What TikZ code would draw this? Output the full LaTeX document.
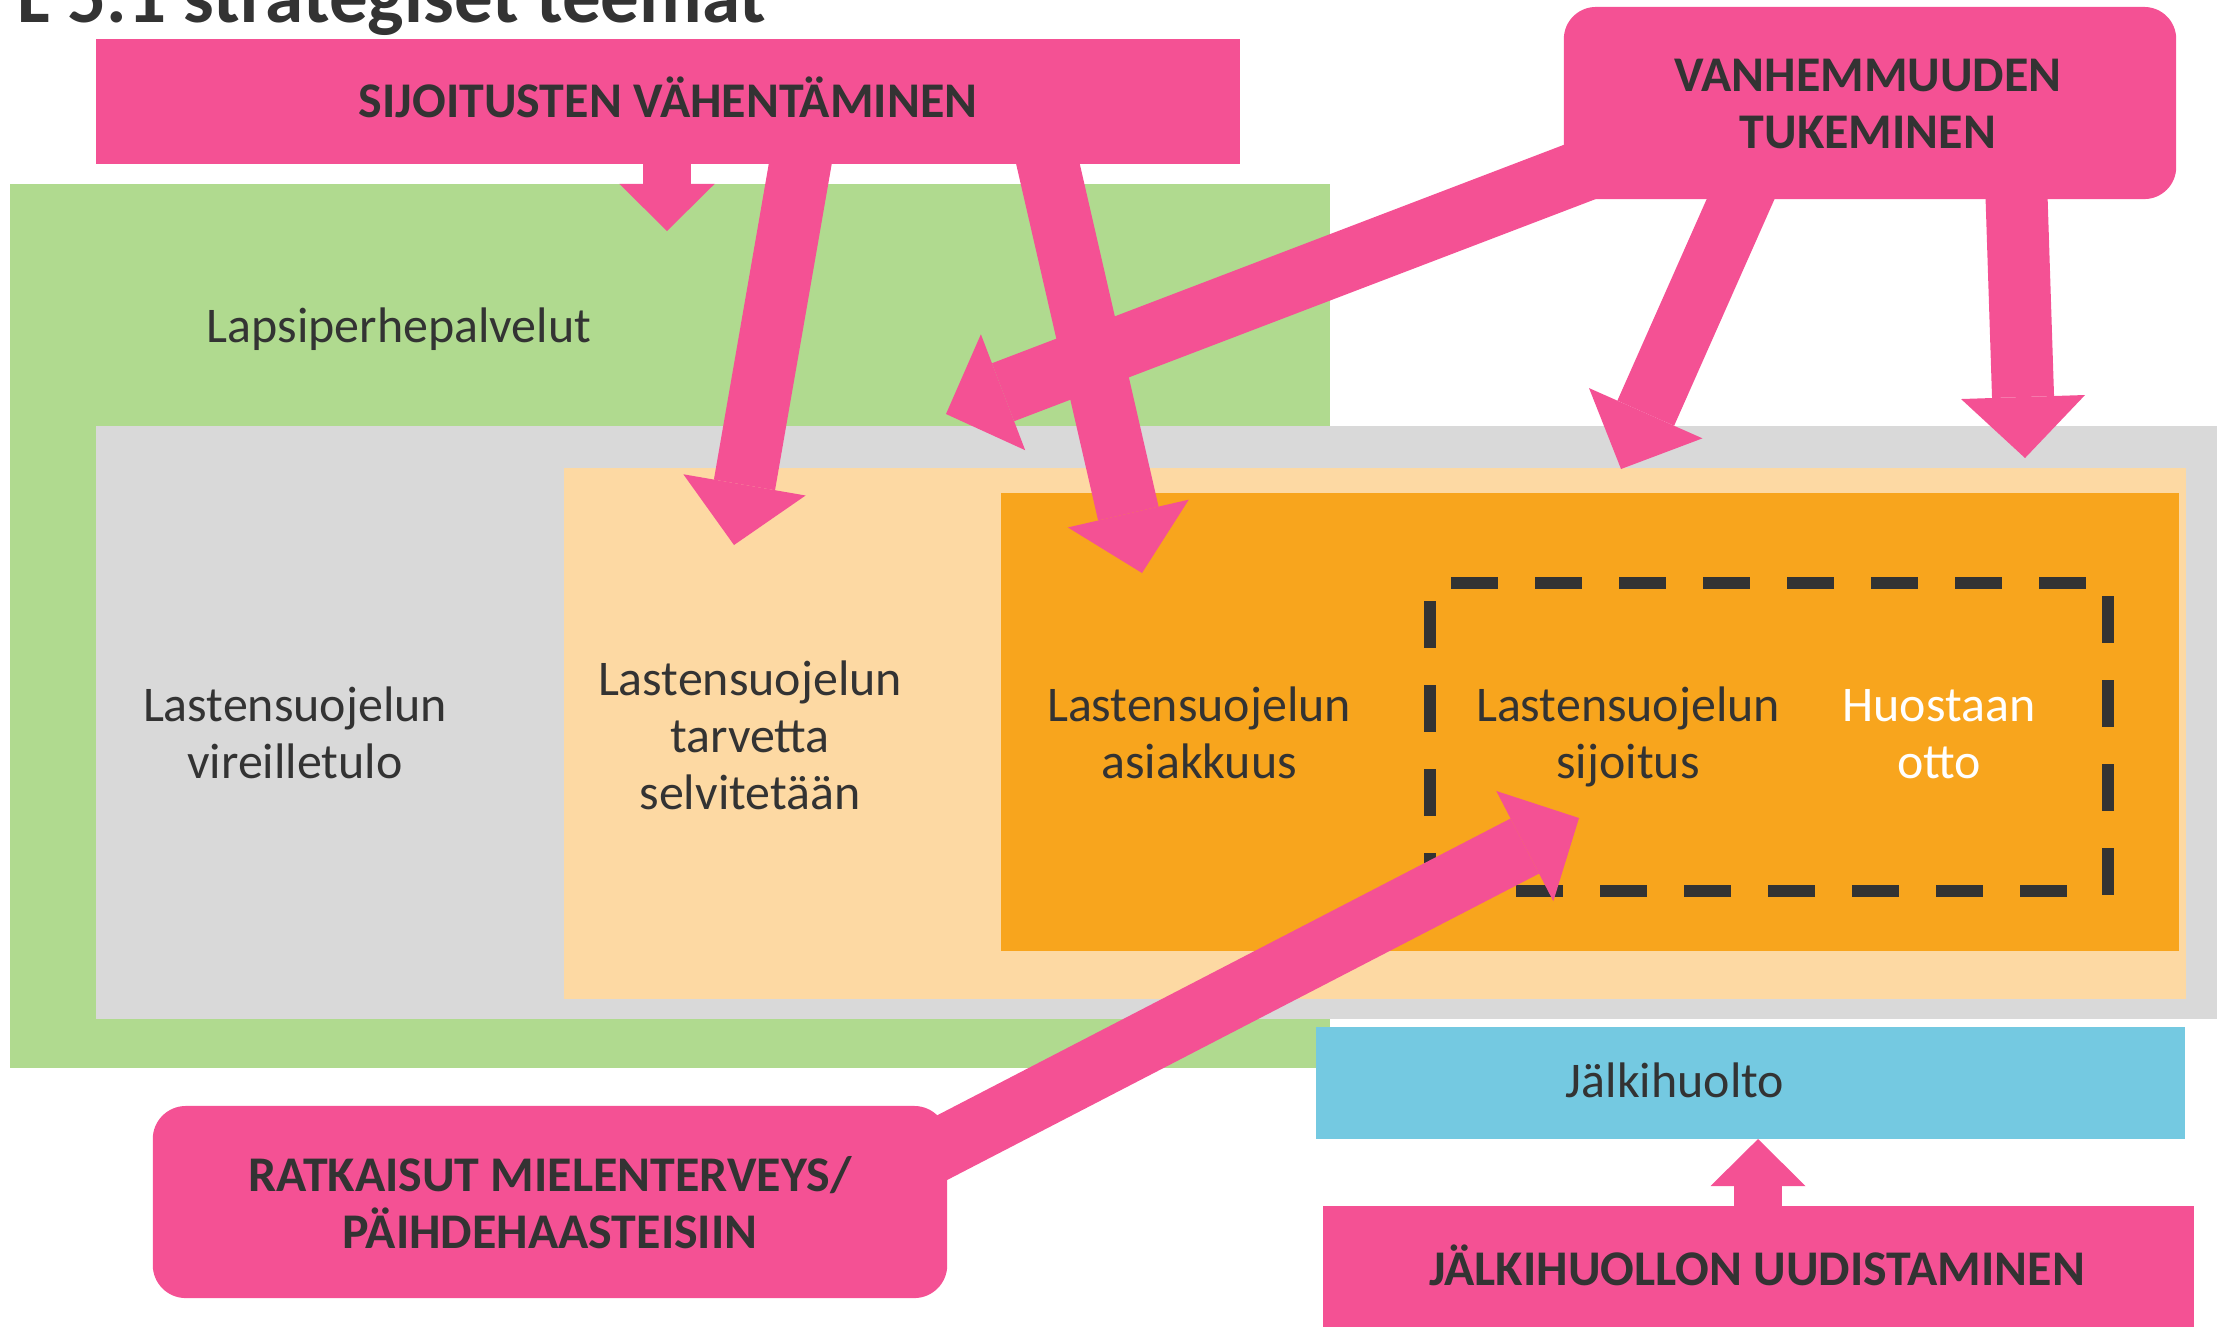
\documentclass[tikz,border=0pt]{standalone}
\usepackage{fontspec}
\setmainfont{Carlito}
\usepackage{tikz}
\usetikzlibrary{arrows.meta}

\definecolor{pinkbox}{HTML}{F45194}
\definecolor{lapsigreen}{HTML}{B0DA8F}
\definecolor{lsgray}{HTML}{D9D9D9}
\definecolor{lightorange}{HTML}{FDD9A3}
\definecolor{lsorange}{HTML}{F8A51D}
\definecolor{jhblue}{HTML}{74C9E1}
\definecolor{darktext}{HTML}{333333}

\begin{document}
\begin{tikzpicture}[x=0.01cm, y=-0.01cm]
		\tikzstyle{Label}	= [inner sep=0pt, anchor=base, align=center, text=darktext, font=\fontsize{14.2pt}{16.2pt}\selectfont]
		\tikzstyle{Theme}	= [Label, font=\fontsize{14.2pt}{16.2pt}\selectfont\bfseries]
		\tikzstyle{PinkBox}	= [rectangle, fill=pinkbox, inner sep=0pt]
		\tikzstyle{BigArrow}	= [line width=0.62cm, pinkbox, -{Triangle[length=0.61cm, width=1.24cm, line width'=0pt]}]
		\tikzstyle{SmallArrow}	= [line width=0.48cm, pinkbox, -{Triangle[length=0.47cm, width=0.95cm, line width'=0pt]}]
		\tikzstyle{Dashes}	= [line width=0.12cm, darktext, dash pattern=on 0.47cm off 0.37cm]

		\useasboundingbox (0,0) rectangle (2222,1326);

		% palvelualueet
		\fill [lapsigreen] (10,184) rectangle (1330,1068);
		\fill [lsgray] (96,426) rectangle (2217,1019);
		\fill [lightorange] (564,468) rectangle (2186,999);
		\fill [lsorange] (1001,493) rectangle (2179,951);
		\fill [jhblue] (1316,1027) rectangle (2185,1139);

		\draw [Dashes] (1451,583) -- (2092,583);
		\draw [Dashes] (1516,891) -- (2075,891);
		\draw [Dashes] (1430,601) -- (1430,904);
		\draw [Dashes] (2108,596) -- (2108,900);

		\node (otsikko) at (17,22) [Theme, anchor=base west, font=\fontsize{21.9pt}{24pt}\selectfont\bfseries] {L 5.1 strategiset teemat};

		% base = viimeisen rivin pohjaviiva
		\node (lapsi) at (399,342) [Label] {Lapsiperhepalvelut};
		\node (vireille) at (295,778) [Label] {Lastensuojelun\\vireilletulo};
		\node (tarve) at (750,809) [Label] {Lastensuojelun\\tarvetta\\selvitetään};
		\node (asiakkuus) at (1199,778) [Label] {Lastensuojelun\\asiakkuus};
		\node (sijoitus) at (1628,778) [Label] {Lastensuojelun\\sijoitus};
		\node (huostaan) at (1939,778) [Label, text=white] {Huostaan\\otto};
		\node (jalki) at (1675,1097) [Label] {Jälkihuolto};

		% nuolet
		\coordinate (a1s) at (667,130);
		\coordinate (a1t) at (667,231);
		\coordinate (a2s) at (807,125);
		\coordinate (a2t) at (734,545);
		\coordinate (a3s) at (1039,125);
		\coordinate (a3t) at (1142,573);
		\coordinate (a4s) at (1700,126);
		\coordinate (a4t) at (946,414);
		\coordinate (a5s) at (1761,153);
		\coordinate (a5t) at (1621,469);
		\coordinate (a6s) at (2015,150);
		\coordinate (a6t) at (2025,458);
		\coordinate (a7s) at (868,1186);
		\coordinate (a7t) at (1579,818);
		\coordinate (a8s) at (1758,1250);
		\coordinate (a8t) at (1758,1139);

		\draw [SmallArrow] (a1s) to (a1t);
		\draw [BigArrow] (a2s) to (a2t);
		\draw [BigArrow] (a3s) to (a3t);
		\draw [BigArrow] (a4s) to (a4t);
		\draw [BigArrow] (a5s) to (a5t);
		\draw [BigArrow] (a6s) to (a6t);
		\draw [BigArrow] (a7s) to (a7t);
		\draw [SmallArrow] (a8s) to (a8t);

		% teemat
		\node (vahent) at (668,101.5) [PinkBox, minimum width=11.44cm, minimum height=1.25cm] {};
		\node (vanh) at (1870,103) [PinkBox, rounded corners=0.32cm, minimum width=6.12cm, minimum height=1.92cm] {};
		\node (ratk) at (550,1202) [PinkBox, rounded corners=0.33cm, minimum width=7.94cm, minimum height=1.92cm] {};
		\node (jhuud) at (1758.5,1273) [PinkBox, minimum width=8.71cm, minimum height=1.34cm] {};

		\node (vahentT) at (668,117) [Theme] {SIJOITUSTEN VÄHENTÄMINEN};
		\node (vanhT) at (1868,148) [Theme] {VANHEMMUUDEN\\TUKEMINEN};
		\node (ratkT) at (550,1248) [Theme] {RATKAISUT MIELENTERVEYS/\\PÄIHDEHAASTEISIIN};
		\node (jhuudT) at (1757,1285) [Theme] {JÄLKIHUOLLON UUDISTAMINEN};
\end{tikzpicture}
\end{document}
